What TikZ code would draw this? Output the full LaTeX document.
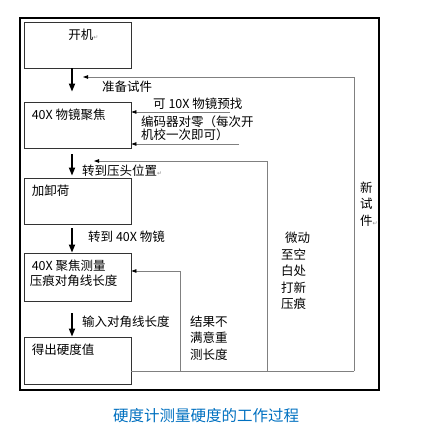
\documentclass[tikz,border=0pt]{standalone}
\usepackage{fontspec}
\setmainfont{Noto Sans CJK SC}
\newfontfamily\markfont{DejaVu Sans}
\usetikzlibrary{positioning,arrows.meta}
\definecolor{capblue}{RGB}{0,112,192}
\newcommand{\retmark}{{\markfont\color{black!45}\fontsize{6}{6}\selectfont ↵}}

\begin{document}
\begin{tikzpicture}[x=1pt,y=-1pt,
  stepbox/.style={draw=black!80,line width=0.8pt,minimum width=107pt,minimum height=46pt,inner sep=0pt},
  boxtext/.style={anchor=north west,inner sep=0pt,xshift=8pt,yshift=-7pt,align=left,font=\fontsize{12.5}{16.5}\selectfont},
  downstep/.style={draw=black,line width=1.6pt,-{Triangle[length=8pt,width=6pt]}},
  backline/.style={draw=black!50,line width=0.8pt,-{Triangle[length=5pt,width=3.5pt,black]}},
  plainline/.style={draw=black!50,line width=0.8pt},
  note/.style={anchor=west,inner sep=0pt,align=left,font=\fontsize{12.5}{16.5}\selectfont}]
  \useasboundingbox (0,0) rectangle (422,434);
  %frame
  \draw[line width=1.2pt] (20,18) rectangle (379,390);

  %steps
  \node[stepbox,label={[boxtext,anchor=north,xshift=-2pt]north:开机\retmark}] (on) at (77.5,45) {};
  \node[stepbox,label={[boxtext]north west:40X 物镜聚焦}] (focus) at (77.5,125) {};
  \node[stepbox,label={[boxtext]north west:加卸荷}] (load) at (77.5,201) {};
  \node[stepbox,minimum height=48pt,label={[boxtext]north west:40X 聚焦测量\\[-1pt]\hspace*{-2pt}压痕对角线长度}] (measure) at (77.5,277) {};
  \node[stepbox,minimum height=47pt,label={[boxtext]north west:得出硬度值}] (result) at (77.5,360.5) {};

  %down arrows
  \draw[downstep,shorten >=10pt] ([xshift=-5.5pt]on.south) -- ([xshift=-5.5pt]focus.north);
  \node[note] (prep) at (102,87) {准备试件};
  \draw[downstep,shorten <=6pt,shorten >=2pt] ([xshift=-5.5pt]focus.south) -- ([xshift=-5.5pt]load.north);
  \node[note] (toindenter) at (82,171) {转到压头位置\retmark};
  \draw[downstep,shorten <=4pt] ([xshift=-5.5pt]load.south) -- ([xshift=-5.5pt]measure.north);
  \node[note] (toobj) at (88,237) {转到 40X 物镜};
  \draw[downstep,shorten <=12pt] ([xshift=-5.5pt]measure.south) -- ([xshift=-5.5pt]result.north);
  \node[note] (input) at (82,322) {输入对角线长度};

  %hints into focus box
  \coordinate (hintA) at (230,112);
  \coordinate (hintB) at (239,144);
  \draw[backline] (hintA) -- (hintA -| focus.east);
  \draw[backline] (hintB) -- (hintB -| focus.east);
  \node[note] (prefind) at (153,104) {可 10X 物镜预找};
  \node[note,font=\fontsize{12.5}{11}\selectfont] (zero) at (141,128) {编码器对零（每次开\\机校一次即可）};

  %feedback loops
  \coordinate (base) at (131,371);
  \coordinate (remeasure) at (180,371);
  \coordinate (newdent) at (267,371);
  \coordinate (newpiece) at (354,371);
  \coordinate (dentend) at (94,161);
  \coordinate (pieceend) at (83,77);
  \draw[plainline] (base) -- (newpiece);
  \draw[backline] (remeasure) |- (measure.east |- 0,271);
  \draw[backline] (newdent) |- (dentend);
  \draw[backline] (newpiece) |- (pieceend);
  \node[note] (dissat) at (190,338) {结果不\\满意重\\测长度};
  \node[note] (shift) at (281,271) {\hspace*{4pt}微动\\至空\\白处\\打新\\压痕};
  \node[note] (fresh) at (360,204) {新\\试\\件\retmark};

  %caption
  \node[font=\fontsize{15.5}{18}\selectfont,text=capblue] (caption) at (206,416) {硬度计测量硬度的工作过程};
\end{tikzpicture}
\end{document}
